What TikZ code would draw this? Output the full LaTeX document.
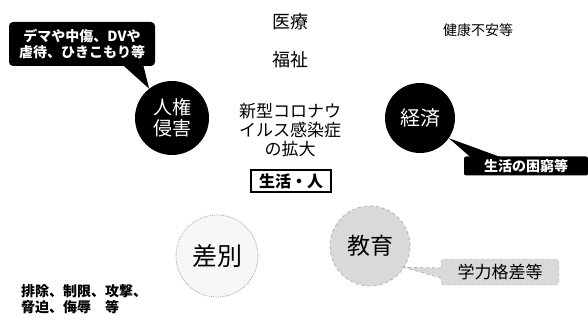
\documentclass[tikz,border=0pt]{standalone}
\usepackage{fontspec}
\setmainfont{Noto Sans CJK JP}
\begin{document}
\begin{tikzpicture}[x=1pt,y=-1pt,
  darkbubble/.style={fill=black,text=white,rounded corners=4pt,inner sep=2pt,align=center},
  darkcirc/.style={circle,fill=black,text=white,align=center,inner sep=0pt},
  speckcirc/.style={circle,align=center,inner sep=0pt},
  plain/.style={align=center,inner sep=1pt}]
\useasboundingbox (0,0) rectangle (588,320);
% top-left
\node[darkbubble,minimum width=146pt,minimum height=44pt,font=\fontsize{14}{16}\selectfont\bfseries] (b1) at (82,44) {デマや中傷、DVや\\虐待、ひきこもり等};
\node[darkcirc,minimum size=74pt,font=\fontsize{19}{21}\selectfont] (hr) at (172,118) {人権\\侵害};
\fill ([xshift=112pt,yshift=3pt]b1.south west) -- (hr.128) -- ([xshift=134pt,yshift=3pt]b1.south west) -- cycle;
% top texts
\node[plain,font=\fontsize{18}{20}\selectfont] (iryo) at (290,22) {医療};
\node[plain,font=\fontsize{18}{20}\selectfont] (fuku) at (290,60) {福祉};
\node[plain,font=\fontsize{14}{16}\selectfont] (ken) at (478,30) {健康不安等};
% centre
\node[plain,font=\fontsize{17}{19}\selectfont] (cov) at (290,130) {新型コロナウ\\イルス感染症\\の拡大};
\node[draw=black,line width=2.5pt,inner sep=2pt,minimum width=80pt,minimum height=22pt,font=\fontsize{16}{18}\selectfont\bfseries] (life) at (291,181) {生活・人};
% economy
\node[darkcirc,minimum size=70pt,font=\fontsize{20}{22}\selectfont] (ec) at (420,118) {経済};
\node[darkbubble,rounded corners=2pt,minimum width=124pt,minimum height=19pt,font=\fontsize{14}{16}\selectfont\bfseries] (b2) at (526,166) {生活の困窮等};
\fill ([xshift=8pt,yshift=-2pt]b2.north west) -- (ec.-35) -- ([xshift=40pt,yshift=-2pt]b2.north west) -- cycle;
% discrimination
\node[speckcirc,minimum size=82pt,fill=gray!6,draw=gray!70,densely dotted,line width=0.8pt,font=\fontsize{25}{27}\selectfont] (sab) at (217,256) {差別};
\node[plain,align=left,font=\fontsize{14}{16}\selectfont\bfseries] (hai) at (84,299) {排除、制限、攻撃、\\脅迫、侮辱　等};
% education
\node[speckcirc,minimum size=80pt,fill=gray!30,draw=gray!60,dashed,line width=0.8pt,font=\fontsize{23}{25}\selectfont] (edu) at (370,246) {教育};
\node[fill=gray!30,draw=gray!60,dashed,rounded corners=3pt,minimum width=118pt,minimum height=26pt,inner sep=2pt,font=\fontsize{17}{19}\selectfont] (b3) at (500,272) {学力格差等};
\fill[gray!30] ([yshift=-6pt,xshift=1pt]b3.west) -- (edu.-32) -- ([yshift=4pt,xshift=1pt]b3.west) -- cycle;
\draw[gray!60,dashed,line width=0.8pt] ([yshift=-6pt]b3.west) -- (edu.-32) -- ([yshift=4pt]b3.west);
\end{tikzpicture}
\end{document}
